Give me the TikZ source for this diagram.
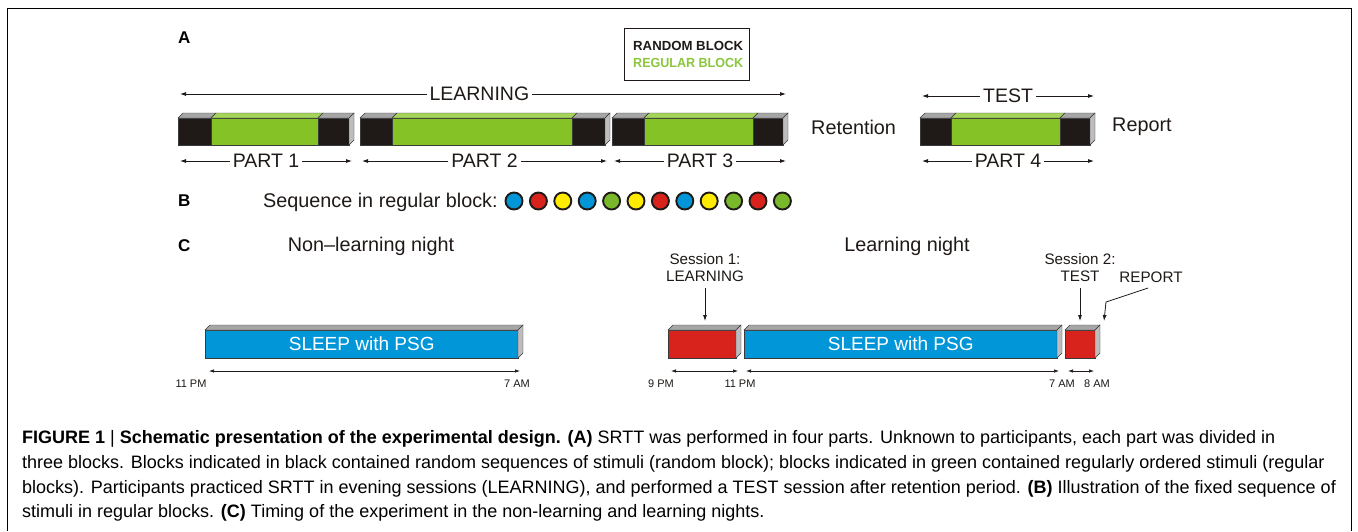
\documentclass[tikz,border=0pt]{standalone}
\usepackage{fontspec}
\setmainfont{Liberation Sans}
\usetikzlibrary{arrows.meta}
\definecolor{rndblk}{HTML}{1F1A17}
\definecolor{reggrn}{HTML}{84C225}
\definecolor{reggrntop}{HTML}{A5D45A}
\definecolor{topgray}{HTML}{A6A6A6}
\definecolor{sidegray}{HTML}{BDBDBD}
\definecolor{sleepblue}{HTML}{0096D8}
\definecolor{sessred}{HTML}{D8231C}
\definecolor{dotyel}{HTML}{FFEC00}
\definecolor{dotgrn}{HTML}{78B82A}
\definecolor{legendgrn}{HTML}{8CC63F}
\definecolor{edgec}{HTML}{3A3A3A}
\tikzset{
  dbl/.style={{Latex[length=6pt,width=4pt]}-{Latex[length=6pt,width=4pt]}, line width=0.8pt, draw=rndblk},
  sdbl/.style={{Latex[length=5pt,width=3.5pt]}-{Latex[length=5pt,width=3.5pt]}, line width=0.7pt, draw=rndblk},
  downarr/.style={-{Latex[length=6pt,width=4pt]}, line width=0.8pt, draw=rndblk},
  lbl/.style={font=\fontsize{19.8}{22}\selectfont, text=rndblk, inner sep=0pt},
  gaplbl/.style={font=\fontsize{19.5}{22}\selectfont, text=rndblk, fill=white, inner xsep=3pt, inner ysep=0pt},
  panel/.style={font=\fontsize{17}{19}\selectfont\bfseries, inner sep=0pt},
  smalllbl/.style={font=\fontsize{15.2}{17}\selectfont, text=rndblk, inner sep=0pt, align=center},
  timelbl/.style={font=\fontsize{11}{12}\selectfont, text=rndblk, inner sep=0pt},
  dot/.style={circle, minimum size=17pt, inner sep=0pt, line width=1.9pt, draw=rndblk},
  captxt/.style={font=\fontsize{18}{20}\selectfont, text=black, inner sep=0pt, anchor=base west},
  face/.style={draw=edgec, line width=0.4pt}
}
% part block: #1 x0, #2 green start, #3 green end, #4 x1, #5 name
\newcommand{\partblock}[5]{%
  \def\ya{118}\def\yb{145}\def\dd{5}%
  \filldraw[face, fill=rndblk] (#1,\ya) rectangle (#2,\yb);
  \filldraw[face, fill=reggrn] (#2,\ya) rectangle (#3,\yb);
  \filldraw[face, fill=rndblk] (#3,\ya) rectangle (#4,\yb);
  \filldraw[face, fill=topgray] (#1,\ya) -- (#1+\dd,\ya-\dd) -- (#2+\dd,\ya-\dd) -- (#2,\ya) -- cycle;
  \filldraw[face, fill=reggrntop] (#2,\ya) -- (#2+\dd,\ya-\dd) -- (#3+\dd,\ya-\dd) -- (#3,\ya) -- cycle;
  \filldraw[face, fill=topgray] (#3,\ya) -- (#3+\dd,\ya-\dd) -- (#4+\dd,\ya-\dd) -- (#4,\ya) -- cycle;
  \filldraw[face, fill=sidegray] (#4,\ya) -- (#4+\dd,\ya-\dd) -- (#4+\dd,\yb-\dd) -- (#4,\yb) -- cycle;
  \coordinate (#5w) at (#1,\yb);
  \coordinate (#5e) at (#4,\yb);
}
% night bar: #1 x0, #2 x1, #3 colour, #4 name
\newcommand{\nightbar}[4]{%
  \def\ya{330}\def\yb{358}\def\dd{5}%
  \filldraw[face, fill=#3] (#1,\ya) rectangle (#2,\yb);
  \filldraw[face, fill=topgray] (#1,\ya) -- (#1+\dd,\ya-\dd) -- (#2+\dd,\ya-\dd) -- (#2,\ya) -- cycle;
  \filldraw[face, fill=sidegray] (#2,\ya) -- (#2+\dd,\ya-\dd) -- (#2+\dd,\yb-\dd) -- (#2,\yb) -- cycle;
  \node[inner sep=0pt, minimum width=#2-#1, minimum height=28pt, anchor=north west] (#4) at (#1,\ya) {};
}
\begin{document}
\begin{tikzpicture}[x=1pt, y=-1pt]
\useasboundingbox (0,0) rectangle (1358,531);
\fill[white] (0,0) rectangle (1358,531);
% frame
\draw[line width=1.6pt] (7.5,531) -- (7.5,8.5) -- (1351.5,8.5) -- (1351.5,531);

% ---------- panel A ----------
\node[panel, anchor=west] (pA) at (178,38) {A};
\node[draw=rndblk, line width=0.8pt, minimum width=125pt, minimum height=52pt, anchor=north west,
      inner sep=0pt] (legend) at (624,28) {};
\node[font=\fontsize{13.2}{15}\selectfont\bfseries, text=rndblk, anchor=west, inner sep=0pt] (lrand) at (633,46) {RANDOM BLOCK};
\node[font=\fontsize{13.2}{15}\selectfont\bfseries, text=legendgrn, anchor=west, inner sep=0pt, xscale=0.95] (lreg) at (633,63) {REGULAR BLOCK};

\partblock{178}{211}{318}{349}{pone}
\partblock{360}{392}{572}{605}{ptwo}
\partblock{612}{644}{753}{783}{pthree}
\partblock{920}{951}{1060}{1090}{pfour}

\coordinate (learnL) at (180,94);
\coordinate (learnR) at (786,94);
\draw[dbl] (learnL) -- (learnR) node[gaplbl, pos=0.494] (learnlbl) {LEARNING};
\coordinate (testL) at (922,96);
\coordinate (testR) at (1094,96);
\draw[dbl] (testL) -- (testR) node[gaplbl, midway] (testlbl) {TEST};

\coordinate (p1L) at (180,161); \coordinate (p1R) at (352,161);
\coordinate (p2L) at (362,161); \coordinate (p2R) at (607,161);
\coordinate (p3L) at (614,161); \coordinate (p3R) at (786,161);
\coordinate (p4L) at (922,161); \coordinate (p4R) at (1094,161);
\draw[dbl] (p1L) -- (p1R) node[gaplbl, midway] (p1lbl) {PART 1};
\draw[dbl] (p2L) -- (p2R) node[gaplbl, midway] (p2lbl) {PART 2};
\draw[dbl] (p3L) -- (p3R) node[gaplbl, midway] (p3lbl) {PART 3};
\draw[dbl] (p4L) -- (p4R) node[gaplbl, midway] (p4lbl) {PART 4};

\node[lbl, anchor=west] (retention) at (811,127) {Retention};
\node[lbl, anchor=west] (report) at (1112,127) {Report};

% ---------- panel B ----------
\node[panel, anchor=west] (pB) at (178,201) {B};
\node[lbl, anchor=west] (seqlbl) at (263,202) {Sequence in regular block:};
\foreach \c [count=\i from 0] in {sleepblue,sessred,dotyel,sleepblue,dotgrn,dotyel,sessred,sleepblue,dotyel,dotgrn,sessred,dotgrn}{
  \node[dot, fill=\c] (dot\i) at (514+24.4*\i,201) {};
}

% ---------- panel C ----------
\node[panel, anchor=west] (pC) at (178,246) {C};
\node[lbl] (nonlearn) at (371,246) {Non--learning night};
\node[lbl] (learnnight) at (907,246) {Learning night};

\nightbar{205}{518}{sleepblue}{sleepA}
\node[font=\fontsize{19}{21}\selectfont, text=white, inner sep=0pt] at (sleepA) {SLEEP with PSG};
\coordinate (nA) at (209,371); \coordinate (nB) at (520,371);
\draw[sdbl] (nA) -- (nB);
\node[timelbl] (t11a) at (191,384) {11 PM};
\node[timelbl] (t7a) at (517,384) {7 AM};

\nightbar{668}{736}{sessred}{sessone}
\nightbar{744}{1057}{sleepblue}{sleepB}
\node[font=\fontsize{19}{21}\selectfont, text=white, inner sep=0pt] at (sleepB) {SLEEP with PSG};
\nightbar{1065}{1095}{sessred}{sesstwo}

\node[smalllbl] (s1) at (705,268) {Session 1:\\LEARNING};
\node[smalllbl] (s2) at (1080,268) {Session 2:\\TEST};
\node[smalllbl] (rep) at (1151,277) {REPORT};
\draw[downarr] (705,288) -- (705,321);
\draw[downarr] (1080,288) -- (1080,321);
\draw[downarr] (1148,288) -- (1106,302) -- (1104,321);

\coordinate (a1) at (671,371); \coordinate (a2) at (738,371);
\coordinate (b1) at (746,371); \coordinate (b2) at (1059,371);
\coordinate (c1) at (1068,371); \coordinate (c2) at (1094,371);
\draw[sdbl] (a1) -- (a2);
\draw[sdbl] (b1) -- (b2);
\draw[sdbl] (c1) -- (c2);
\node[timelbl] (t9) at (661,384) {9 PM};
\node[timelbl] (t11b) at (740,384) {11 PM};
\node[timelbl] (t7b) at (1062,384) {7 AM};
\node[timelbl] (t8) at (1097,384) {8 AM};

% ---------- caption ----------
\node[captxt] (c1l) at (22,443) {\textbf{FIGURE 1 {\mdseries|} Schematic presentation of the experimental design. (A)} SRTT was performed in four parts. Unknown to participants, each part was divided in};
\node[captxt] (c2l) at (22,468) {three blocks. Blocks indicated in black contained random sequences of stimuli (random block); blocks indicated in green contained regularly ordered stimuli (regular};
\node[captxt] (c3l) at (22,493) {blocks). Participants practiced SRTT in evening sessions (LEARNING), and performed a TEST session after retention period. \textbf{(B)} Illustration of the fixed sequence of};
\node[captxt] (c4l) at (22,517) {stimuli in regular blocks. \textbf{(C)} Timing of the experiment in the non-learning and learning nights.};
\end{tikzpicture}
\end{document}
